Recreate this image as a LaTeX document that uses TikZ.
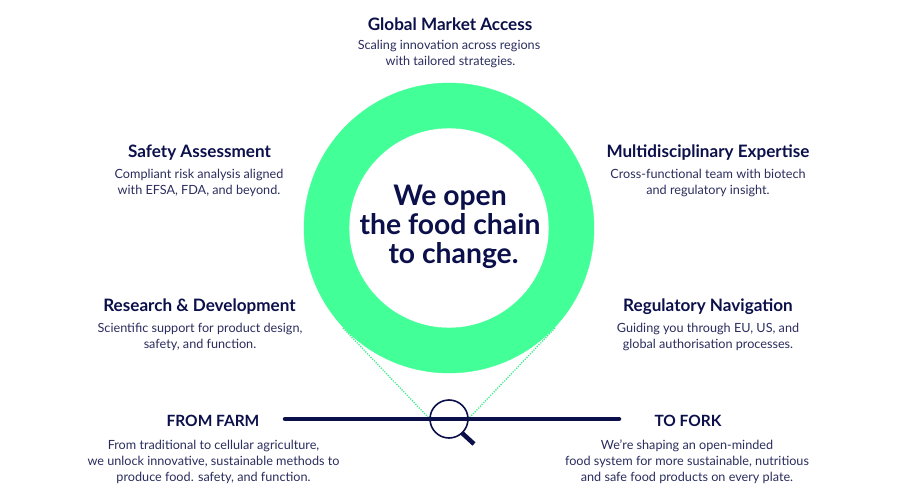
\documentclass[tikz,border=0pt]{standalone}
\usepackage{fontspec}
\setmainfont{Lato}
\definecolor{navy}{HTML}{0B0F4A}
\definecolor{bodyc}{HTML}{2A2D5E}
\definecolor{mint}{HTML}{43FF97}
\tikzset{
 head/.style={text=navy,font=\fontsize{17.1}{20}\selectfont\bfseries,inner sep=0pt,anchor=center},
 caps/.style={text=navy,font=\fontsize{15.5}{18}\selectfont\bfseries,inner sep=0pt,anchor=center},
 txt/.style={text=bodyc,font=\fontsize{12.65}{16}\selectfont,align=center,inner sep=0pt,anchor=center},
 big/.style={text=navy,font=\fontsize{28.3}{29}\selectfont\bfseries,align=center,inner sep=0pt,anchor=center},
 guide/.style={mint!92!black,dash pattern=on 1.2pt off 1.3pt,line width=1.3pt},
 bar/.style={navy,line width=4.5pt,line cap=round},
}
\begin{document}
\begin{tikzpicture}[x=1pt,y=-1pt]
\useasboundingbox (0,0) rectangle (900,500);
\coordinate (gl) at (343,328);
\coordinate (gr) at (555,328);
\node[circle,minimum size=19*2pt,inner sep=0pt] (lens) at (449,419) {};
\coordinate (hs) at (462,433);
\coordinate (he) at (474,444);
\coordinate (bl) at (285,419);
\coordinate (br) at (619,419);
\draw[guide] (gl) -- (lens.west);
\draw[guide] (gr) -- (lens.east);
\draw[mint,fill=mint,even odd rule] (449,228) circle[radius=145pt] (449,228) circle[radius=100pt];
\draw[bar] (bl) -- (br);
\draw[navy,line width=1.6pt] (lens) circle[radius=19pt];
\draw[navy,line width=4.5pt] (hs) -- (he);
\node[big] (center) at (450,226.5) {We open\\the food chain\\ \hspace*{7pt}to change.};
\node[head] (n1) at (450,24) {Global Market Access};
\node[txt] (n1t) at (449,54) {Scaling innovation across regions\\ \hspace{3pt}with tailored strategies.};
\node[head] (n2) at (199.5,152.5) {Safety Assessment};
\node[txt] (n2t) at (199,182.7) {Compliant risk analysis aligned\\with EFSA, FDA, and beyond.};
\node[head] (n3) at (708,152.5) {Multidisciplinary Expertise};
\node[txt] (n3t) at (708,182.7) {Cross-functional team with biotech\\and regulatory insight.};
\node[head] (n4) at (199.5,306.5) {Research \& Development};
\node[txt] (n4t) at (200,336.5) {Scientific support for product design,\\safety, and function.};
\node[head] (n5) at (708,306.5) {Regulatory Navigation};
\node[txt] (n5t) at (708,336.5) {Guiding you through EU, US, and\\global authorisation processes.};
\node[caps] (n6) at (213,421) {FROM FARM};
\node[txt] (n6t) at (213.5,461.7) {From traditional to cellular agriculture,\\we unlock innovative, sustainable methods to\\produce food. safety, and function.};
\node[caps] (n7) at (688,421) {TO FORK};
\node[txt] (n7t) at (687,461.7) {We’re shaping an open-minded\\food system for more sustainable, nutritious\\and safe food products on every plate.};
\end{tikzpicture}
\end{document}
